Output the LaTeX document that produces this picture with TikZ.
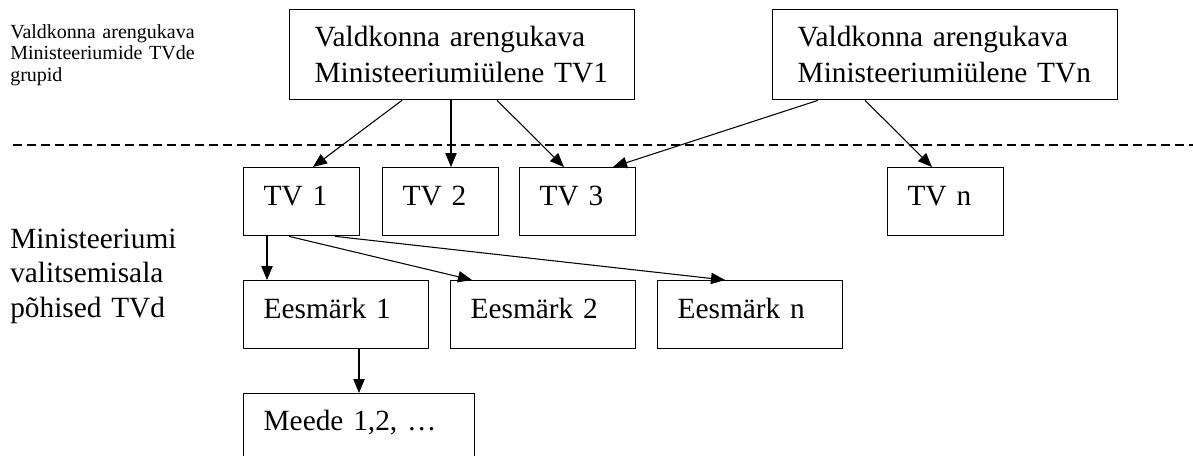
\documentclass[tikz,border=0pt]{standalone}
\usepackage{fontspec}
\setmainfont{Liberation Serif}
\usetikzlibrary{arrows.meta,calc}

\begin{document}
\begin{tikzpicture}[x=0.75pt,y=-0.75pt,
  box/.style={draw, line width=1pt, anchor=north west, inner ysep=0pt, inner xsep=15pt,
    align=left, font=\fontsize{22}{26.5}\selectfont},
  tvbox/.style={box, text width=57pt, text height=28.5pt, text depth=22.5pt},
  goalbox/.style={box, text width=108.75pt, text height=28.5pt, text depth=22.5pt},
  topbox/.style={box, inner xsep=18.75pt, text width=221.25pt, text height=27.75pt, text depth=39.75pt},
  arr/.style={line width=0.8pt, -{Triangle[length=10.5pt,width=8.5pt]}}]

\useasboundingbox (0,0) rectangle (1193,455);
\clip (0,0) rectangle (1193,455);

% labels on the left
\node[anchor=base west, inner sep=0pt, text width=200pt, align=left,
  font=\fontsize{15}{16.2}\selectfont] (grouplabel) at (10,38)
  {Valdkonna arengukava\\Ministeeriumide TVde\\grupid};
\node[anchor=base west, inner sep=0pt, text width=200pt, align=left,
  font=\fontsize{22}{26}\selectfont] (ministrylabel) at (10,248)
  {Ministeeriumi\\valitsemisala\\põhised TVd};

% separator
\draw[line width=0.9pt, dash pattern=on 6.75pt off 3.75pt] (13,145) -- (1193,145);

% top level
\node[topbox] (topA) at (289,9) {Valdkonna arengukava\\Ministeeriumiülene TV1};
\node[topbox] (topN) at (772,9) {Valdkonna arengukava\\Ministeeriumiülene TVn};

% ministry level
\foreach \n/\x/\t in {tv1/243/TV 1, tv2/382/TV 2, tv3/519/TV 3, tvn/887/TV n}{
	\node[tvbox] (\n) at (\x,167) {\t};
}
\foreach \n/\x/\t in {goal1/243/Eesmärk 1, goal2/450/Eesmärk 2, goaln/657/Eesmärk n}{
	\node[goalbox] (\n) at (\x,280) {\t};
}
\node[box, text width=143.25pt, text height=27.75pt, text depth=40pt] (meede) at (243,393) {Meede 1,2, \dots};

% arrows: from / offset / to / offset
\foreach \a/\sa/\b/\sb in {topA/113/tv1/70, topA/162/tv2/69, topA/208/tv3/45,
	topN/46/tv3/94, topN/93/tvn/45,
	tv1/24/goal1/24, tv1/46/goal2/22, tv1/92/goaln/68, goal1/116/meede/116}{
	\draw[arr] ($(\a.south west)+(\sa,0)$) -- ($(\b.north west)+(\sb,0)$);
}

\end{tikzpicture}
\end{document}
